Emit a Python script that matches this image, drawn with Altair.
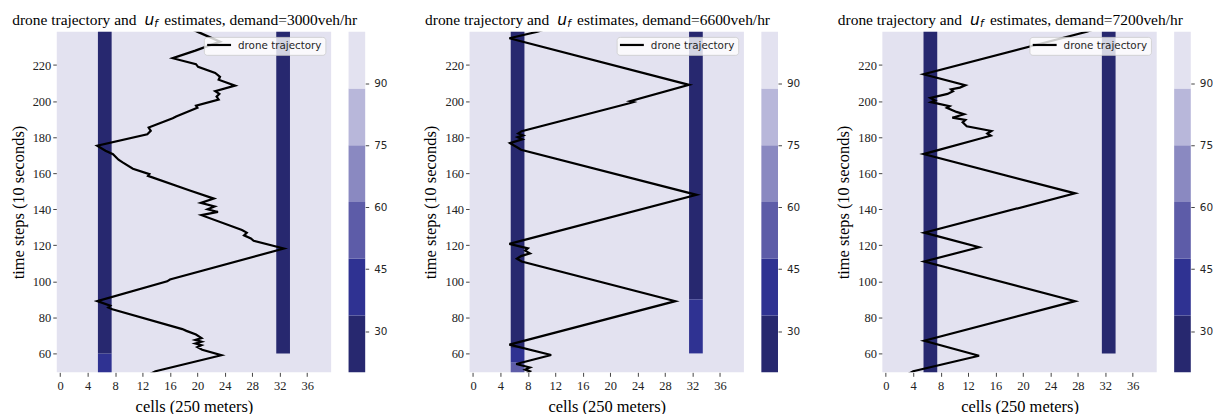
import altair as alt
import pandas as pd

demands = [3000, 6600, 7200]

# u_f estimate blocks (uniform heatmap regions): panel, first cell, last cell, time from, time to, value
blk_panel = [0, 0, 0, 0, 1, 1, 1, 1, 1, 1, 2, 2, 2]
blk_c0 = [0, 6, 6, 32, 0, 6, 6, 6, 32, 32, 0, 6, 32]
blk_c1 = [39, 7, 7, 33, 39, 7, 7, 7, 33, 33, 39, 7, 33]
blk_t0 = [49.5, 49.5, 60, 60, 49.5, 49.5, 55, 63, 60, 90, 49.5, 49.5, 60]
blk_t1 = [238.5, 60, 238.5, 238.5, 238.5, 55, 63, 238.5, 90, 238.5, 238.5, 238.5, 238.5]
blk_val = [95, 40, 25, 25, 95, 55, 40, 25, 40, 25, 95, 25, 25]

# colour bar
cbar_edges = [20, 33.77, 47.53, 61.3, 75.07, 88.83, 102.6]
cbar_colors = ["#27286f", "#2f3292", "#5d5ca8", "#8a89c1", "#b8b7da", "#e3e2f0"]
cbar_ticks = [30, 45, 60, 75, 90]

# drone trajectories (time step, cell)
traj_t = [
    [48, 50.1, 59.0, 62.0, 63.5, 64.5, 65.5, 66.5, 67.5, 68.5, 70.5, 72.5, 73.5, 84.5, 85.5, 86.5,
     89.0, 100.0, 101.0, 118.2, 122.5, 123.8, 125.5, 127.0, 128.5, 136.7, 138.5, 140.0, 141.5, 143.5,
     145.9, 150.4, 158.5, 159.5, 162.5, 166.0, 167.5, 170.5, 172.5, 175.2, 181.6, 183.5, 185.3, 190.5,
     191.5, 196.3, 197.5, 200.9, 202.5, 204.0, 205.5, 208.6, 211.9, 213.5, 215.6, 219.0, 220.5, 223.8,
     228.0, 233.0, 238.0, 240.0],
    [48, 50, 51, 52.2, 54.1, 59.1, 64.9, 89.0, 111.0, 112.5, 114.0, 115.5, 117.0, 118.3, 120.8, 148.0,
     173.0, 174.0, 176.7, 178.8, 180.0, 181.0, 182.0, 183.3, 198.8, 199.5, 200.0, 209.0, 234.9, 238.5,
     240.0],
    [48, 50.1, 58.7, 67.0, 89.0, 111.0, 118.9, 127.0, 148.8, 170.6, 180.8, 182.0, 183.4, 186.0, 188.2,
     189.5, 190.8, 192.7, 194.0, 196.3, 197.2, 199.4, 200.3, 201.8, 204.0, 205.5, 206.5, 207.5, 208.8,
     214.9, 238.5, 240.0],
]
traj_x = [
    [12.8, 13.9, 23.5, 20.7, 20.0, 20.6, 19.7, 20.6, 19.7, 20.6, 19.8, 18.4, 17.8, 7.6, 7.0, 7.3,
     5.4, 15.6, 16.0, 32.6, 28.2, 27.8, 26.8, 27.2, 26.5, 20.6, 23.0, 21.5, 22.5, 20.5,
     22.4, 18.9, 12.8, 13.0, 10.6, 9.1, 8.5, 7.7, 6.6, 5.4, 12.7, 13.2, 12.9, 16.4,
     16.9, 20.0, 19.8, 23.1, 22.8, 23.2, 22.6, 25.5, 23.1, 23.3, 22.6, 20.1, 19.8, 16.4,
     19.7, 23.3, 20.3, 19.1],
    [7.6, 8.3, 7.6, 8.3, 6.3, 11.4, 5.3, 29.5, 7.1, 6.4, 7.0, 8.3, 7.6, 8.0, 5.3, 32.6,
     7.0, 6.6, 5.4, 7.2, 6.5, 7.3, 6.6, 7.1, 22.8, 23.4, 22.9, 31.5, 5.3, 9.4,
     10.6],
    [3.0, 4.0, 13.6, 5.6, 27.6, 5.6, 13.6, 5.6, 27.6, 5.5, 15.3, 14.8, 15.4, 11.8, 11.2,
     11.6, 9.7, 11.4, 10.3, 8.9, 9.3, 6.6, 7.2, 6.5, 9.0, 9.8, 9.5, 10.8, 11.6,
     5.5, 29.3, 30.5],
]
x_ticks = [0, 4, 8, 12, 16, 20, 24, 28, 32, 36]
y_ticks = [60, 80, 100, 120, 140, 160, 180, 200, 220]

W, H = 275.5, 342
CB_GAP, CBW = 17.5, 16.7
SERIF = "Liberation Serif"
SANS = "DejaVu Sans"

blocks = pd.DataFrame({
    "panel": blk_panel,
    "x1": [c - 0.5 for c in blk_c0],
    "x2": [c + 0.5 for c in blk_c1],
    "t0": blk_t0, "t1": blk_t1, "v": blk_val,
})
cbar = pd.DataFrame({
    "lo": cbar_edges[:-1], "hi": cbar_edges[1:],
    "mid": [(a + b) / 2 for a, b in zip(cbar_edges[:-1], cbar_edges[1:])],
})

color_scale = alt.Scale(type="threshold", domain=cbar_edges[1:-1], range=cbar_colors)
xs = alt.Scale(domain=[-0.5, 39.5], nice=False, zero=False)
ys = alt.Scale(domain=[49.5, 238.5], nice=False, zero=False)
one = pd.DataFrame({"k": [0]})

ax_x = alt.Axis(values=x_ticks, title="cells (250 meters)", labelOverlap=False,
                titleFont=SERIF, titleFontSize=16.5, titleFontWeight="normal", titleColor="black",
                labelFont=SERIF, labelFontSize=12.5, labelColor="#222222", tickColor="#444444",
                tickSize=4, labelPadding=3, titlePadding=7, domain=False, grid=False)
ax_y = alt.Axis(values=y_ticks, title="time steps (10 seconds)", labelOverlap=False,
                titleFont=SERIF, titleFontSize=16.5, titleFontWeight="normal", titleColor="black",
                labelFont=SERIF, labelFontSize=12.5, labelColor="#222222", tickColor="#444444",
                tickSize=4, labelPadding=2, titlePadding=6, domain=False, grid=False)


def panel(i):
    d = blocks[blocks.panel == i]
    heat = alt.Chart(d).mark_rect().encode(
        x=alt.X("x1:Q", scale=xs, axis=ax_x),
        x2="x2:Q",
        y=alt.Y("t0:Q", scale=ys, axis=ax_y),
        y2="t1:Q",
        color=alt.Color("v:Q", scale=color_scale, legend=None),
    )
    tr = pd.DataFrame({"t": traj_t[i], "x": traj_x[i]})
    line = alt.Chart(tr).mark_line(color="black", strokeWidth=2.2, clip=True).encode(
        x=alt.X("x:Q", scale=xs, axis=ax_x), y=alt.Y("t:Q", scale=ys, axis=ax_y), order="t:Q")
    lbox = alt.Chart(one).mark_rect(fill="white", fillOpacity=0.8, stroke="#cccccc",
                                    strokeWidth=0.8, cornerRadius=3).encode(
        x=alt.value(W - 127.3), x2=alt.value(W - 5.3), y=alt.value(5.7), y2=alt.value(23.7))
    lsym = alt.Chart(one).mark_rule(color="black", strokeWidth=2.2).encode(
        x=alt.value(W - 124.5), x2=alt.value(W - 100.5), y=alt.value(13.3))
    ltxt = alt.Chart(one).mark_text(text="drone trajectory", font=SANS, fontSize=10.4,
                                    color="#262626", align="left", baseline="middle").encode(
        x=alt.value(W - 93.5), y=alt.value(14.3))
    tA = alt.Chart(one).mark_text(text="drone trajectory and", font=SERIF, fontSize=15.5,
                                  color="black", align="right", baseline="alphabetic").encode(
        x=alt.value(80), y=alt.value(-7))
    tU = alt.Chart(one).mark_text(text="u", font=SANS, fontStyle="italic", fontSize=15.5,
                                  color="black", align="left", baseline="alphabetic").encode(
        x=alt.value(88), y=alt.value(-7))
    tF = alt.Chart(one).mark_text(text="f", font=SANS, fontStyle="italic", fontSize=10.5,
                                  color="black", align="left", baseline="alphabetic").encode(
        x=alt.value(98), y=alt.value(-4.5))
    tC = alt.Chart(one).mark_text(text=f"estimates, demand={demands[i]}veh/hr", font=SERIF,
                                  fontSize=15.5, color="black", align="left",
                                  baseline="alphabetic").encode(
        x=alt.value(108), y=alt.value(-7))
    main = alt.layer(heat, line, lbox, lsym, ltxt, tA, tU, tF, tC)

    cb = alt.Chart(cbar).mark_rect().encode(
        x=alt.value(W + CB_GAP), x2=alt.value(W + CB_GAP + CBW),
        y=alt.Y("lo:Q", scale=alt.Scale(domain=[cbar_edges[0], cbar_edges[-1]], nice=False, zero=False),
                axis=alt.Axis(orient="right", offset=CB_GAP + CBW, values=cbar_ticks, title=None,
                              labelFont=SANS, labelFontSize=10.5, labelColor="#262626",
                              tickColor="#444444", tickSize=3.5, labelPadding=5,
                              domain=False, grid=False)),
        y2="hi:Q",
        color=alt.Color("mid:Q", scale=color_scale, legend=None),
    )
    return alt.layer(main, cb).resolve_scale(y="independent").properties(width=W, height=H)


chart = alt.hconcat(panel(0), panel(1), panel(2), spacing=138.5, bounds="flush").resolve_scale(
    x="independent", y="independent"
).properties(
    padding={"left": 10, "top": 12, "right": 0, "bottom": 0}
).configure_view(strokeWidth=0)

chart.save("out.html", embed_options={"renderer": "svg", "actions": False})
